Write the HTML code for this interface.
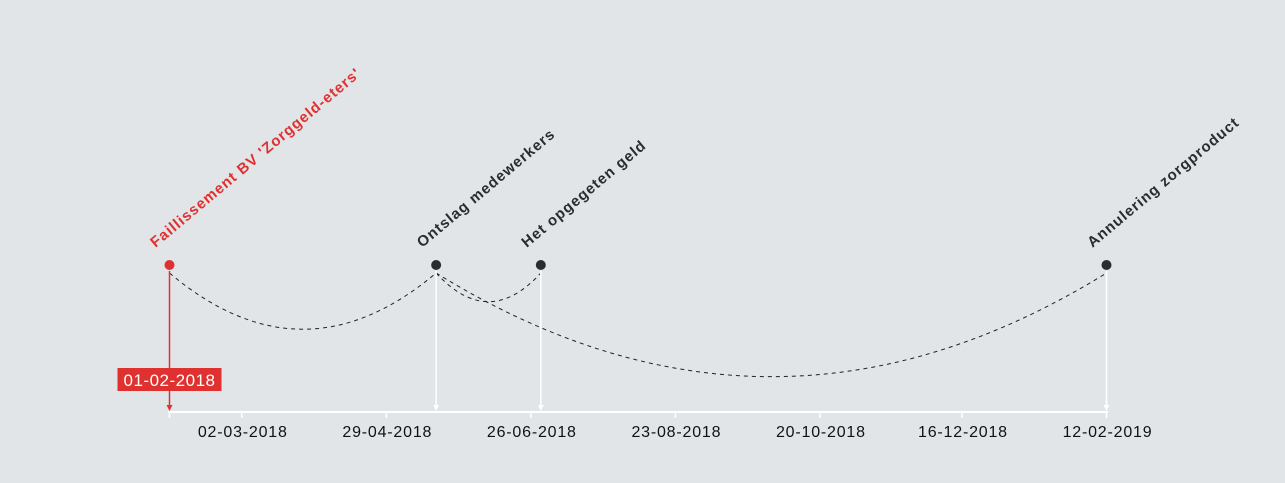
<!DOCTYPE html>
<html><head><meta charset="utf-8">
<style>
html,body{margin:0;padding:0;background:#e2e5e8;}
svg{display:block;font-family:"Liberation Sans",sans-serif;}
</style></head>
<body>
<svg id="chart" width="1285" height="483" viewBox="0 0 1285 483"></svg>
<script>
const eventLabels = ["Faillissement BV 'Zorggeld-eters'", "Ontslag medewerkers", "Het opgegeten geld", "Annulering zorgproduct"];
const eventDates = ["2018-02-01", "2018-05-19", "2018-06-30", "2019-02-12"];
const eventHighlight = [true, false, false, false];
const links = [[0,1],[1,2],[1,3]];
const tickLabels = ["02-03-2018","29-04-2018","26-06-2018","23-08-2018","20-10-2018","16-12-2018","12-02-2019"];
const tickDates = ["2018-03-02","2018-04-29","2018-06-26","2018-08-23","2018-10-20","2018-12-16","2019-02-12"];
const highlightLabel = "01-02-2018";

const NS = "http://www.w3.org/2000/svg";
const svg = document.getElementById('chart');
const t0 = Date.parse("2018-02-01"), t1 = Date.parse("2019-02-12");
const x0 = 169.5, x1 = 1106.5, axisY = 412, pointY = 265;
function xScale(d){ return x0 + (Date.parse(d) - t0) / (t1 - t0) * (x1 - x0); }
function mk(tag, attrs){ const e=document.createElementNS(NS,tag); for(const k in attrs) e.setAttribute(k,attrs[k]); svg.appendChild(e); return e; }

// axis
let ax = mk('line',{x1:168,y1:axisY,x2:1108,y2:axisY,stroke:'#fff','stroke-width':2});


tickDates.forEach((d,i)=>{
  const x = xScale(d);
  let t = mk('line',{x1:x,y1:axisY,x2:x,y2:axisY+6,stroke:'#fff','stroke-width':1.5});
  
  
  let l = mk('text',{x:x+1,y:437,'text-anchor':'middle','font-size':16,'letter-spacing':0.8,fill:'#111'});
  l.textContent = tickLabels[i];
  
  
});
let st = mk('line',{x1:x0,y1:axisY,x2:x0,y2:axisY+6,stroke:'#fff','stroke-width':1.5});



// links
links.forEach(([a,b])=>{
  const xa = xScale(eventDates[a]), xb = xScale(eventDates[b]);
  const w = Math.abs(xb-xa);
  const D = 2.25*Math.pow(w,0.6);
  const p = mk('path',{d:`M${xa},${pointY+8} Q${(xa+xb)/2},${pointY+8+2*(D-8)} ${xb},${pointY+8}`,fill:'none',stroke:'#222','stroke-width':1,'stroke-dasharray':'4,4'});
  
  
});

// events
eventDates.forEach((d,i)=>{
  const x = xScale(d);
  const col = eventHighlight[i] ? '#e03131' : '#fff';
  let v = mk('line',{x1:x,y1:pointY+6,x2:x,y2:axisY-6,stroke:col,'stroke-width':1.5});
  
  
  let ar = mk('path',{d:`M${x-3},${axisY-7} L${x+3},${axisY-7} L${x},${axisY-1} Z`,fill:col});
  
  
  let c = mk('circle',{cx:x,cy:pointY,r:5,fill:eventHighlight[i]?'#e03131':'#2a2c2f'});
  
  
  let t = mk('text',{x:0,y:0,transform:`translate(${x-14},${pointY-17}) rotate(-40)`,'font-size':15,'font-weight':'bold','letter-spacing':1.0,fill:eventHighlight[i]?'#e03131':'#2a2c2f'});
  t.textContent = eventLabels[i];
  
  
});

// highlight date label
const hx = xScale(eventDates[0]);
let hb = mk('rect',{x:hx-52,y:368,width:104,height:23,fill:'#e03131'});


let ht = mk('text',{x:hx,y:386,'text-anchor':'middle','font-size':17,'letter-spacing':0.5,fill:'#fff'});
ht.textContent = highlightLabel;


</script>
</body></html>
